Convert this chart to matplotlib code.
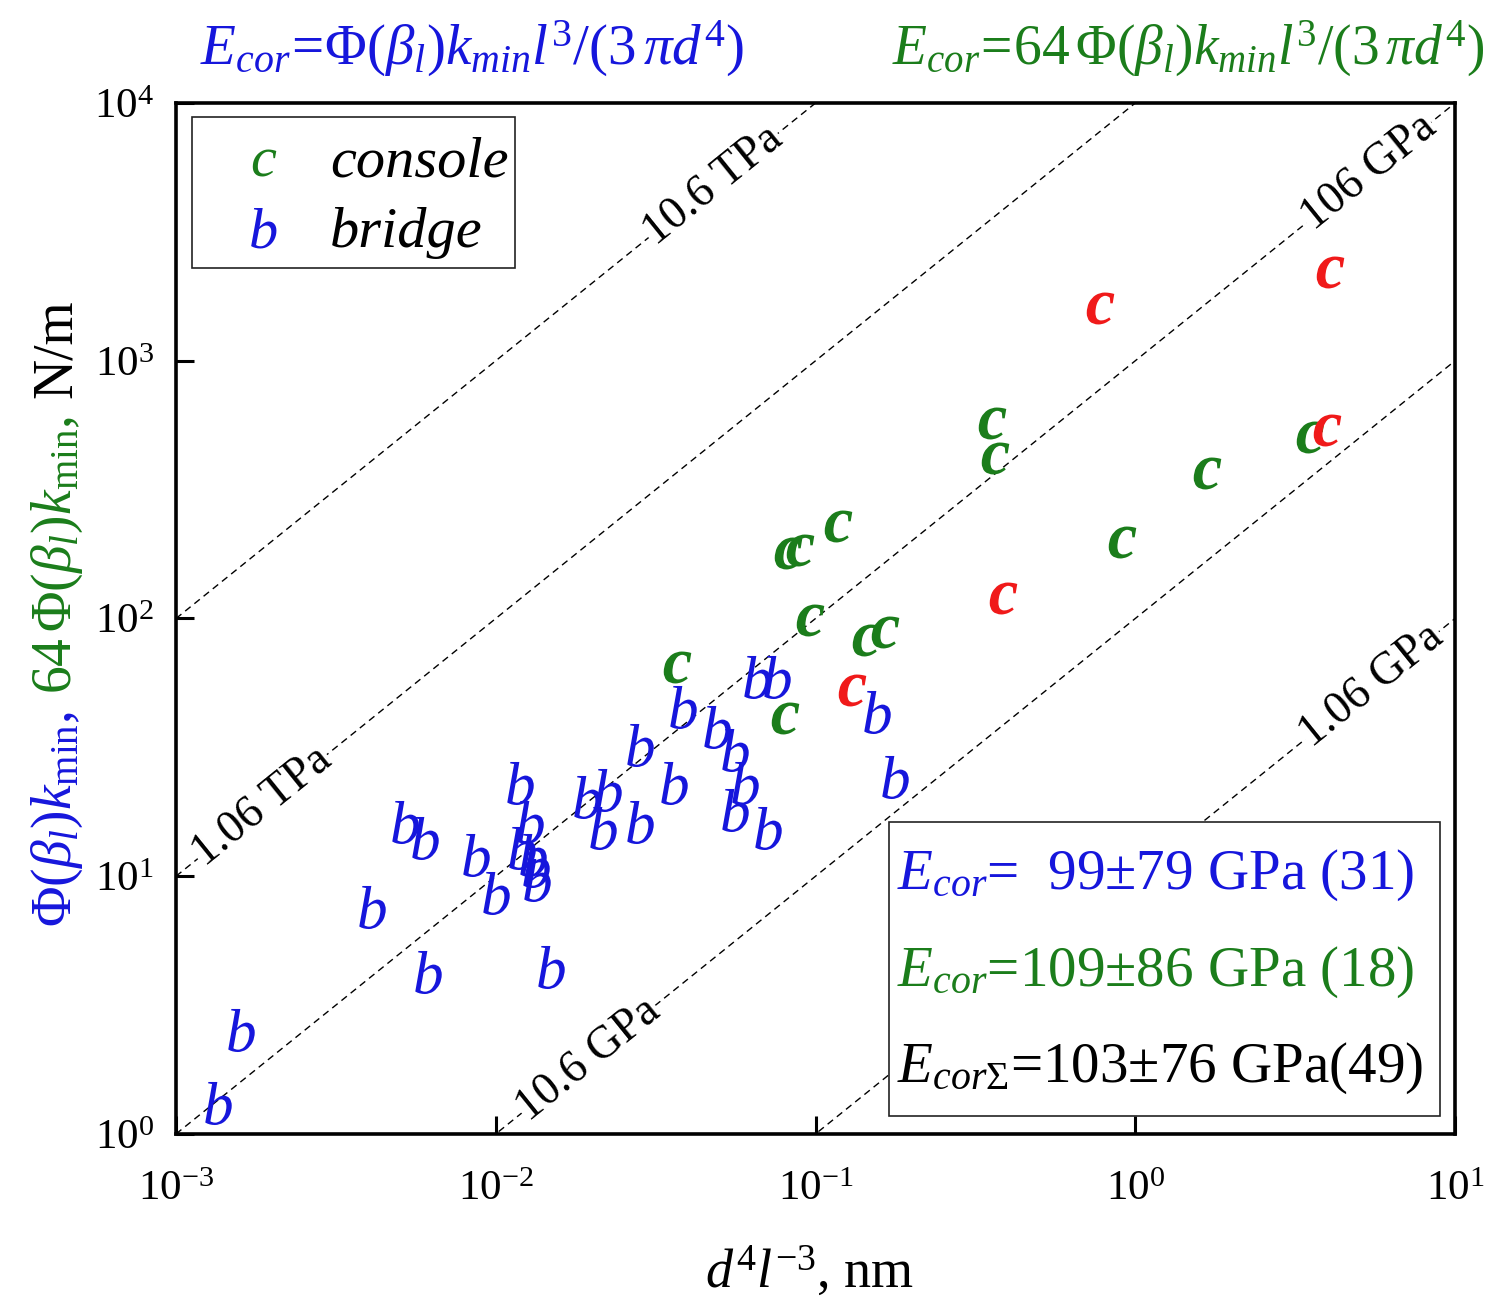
import numpy as np
import matplotlib
matplotlib.use("Agg")
import matplotlib.pyplot as plt
from matplotlib.textpath import TextPath
from matplotlib.font_manager import FontProperties
from matplotlib.transforms import Affine2D
from matplotlib.patches import Rectangle

plt.rcParams['font.family'] = ['Liberation Serif', 'DejaVu Serif']
plt.rcParams['mathtext.fontset'] = 'custom'
plt.rcParams['mathtext.rm'] = 'Liberation Serif'
plt.rcParams['mathtext.it'] = 'Liberation Serif:italic'
plt.rcParams['mathtext.bf'] = 'Liberation Serif:bold'

BLUE = '#1616dc'
GREEN = '#1b7d1b'
RED = '#f01a1a'

# bridge-type samples (b): d^4 l^-3 [nm], Phi(beta_l) k_min [N/m]
bridge_x = [0.00135, 0.00160, 0.00410, 0.00520, 0.00601, 0.00614, 0.00868,
            0.01002, 0.0119, 0.0128, 0.01208, 0.01308, 0.01336, 0.01346,
            0.01489, 0.0193, 0.02244, 0.02164, 0.02826, 0.02826, 0.0361,
            0.0385, 0.0492, 0.0560, 0.0602, 0.0560, 0.0710, 0.0656, 0.0758,
            0.1557, 0.1772]
bridge_y = [1.32, 2.53, 7.60, 16.2, 14.1, 4.25, 12.1,
            8.61, 23.0, 16.2, 12.9, 12.1, 10.96, 9.67,
            4.45, 20.3, 21.6, 15.4, 32.3, 16.2, 23.0,
            45.4, 37.9, 30.9, 23.0, 18.1, 15.4, 59.3, 59.3,
            43.4, 24.3]

# console-type samples (c): d^4 l^-3 [nm], 64 Phi(beta_l) k_min [N/m]
console_x = [0.0369, 0.0803, 0.0961, 0.1438, 0.1650, 0.0820, 0.0894,
             0.1176, 0.3565, 0.3642, 3.52, 1.676, 0.909]
console_y = [64.8, 41.1, 98.7, 82.5, 88.6, 179.6, 184.4,
             228.5, 573.0, 419.5, 506.0, 366.8, 198.1]

# console-type samples highlighted in red
console_red_x = [0.130, 0.776, 4.06, 3.98, 0.386]
console_red_y = [52.8, 1602.0, 2210.0, 538.6, 120.1]

# constant-modulus guide lines k = coef * d^4 l^-3
line_coef = [1e5, 1e4, 1e3, 1e2, 1e1]
line_labels = ['10.6 TPa', '1.06 TPa', '106 GPa', '10.6 GPa', '1.06 GPa']
line_label_x = [10**-1.32, 10**-2.73, 10**0.73, 10**-1.71, 10**0.74]

x_ticks = [1e-3, 1e-2, 1e-1, 1e0, 1e1]
y_ticks = [1e0, 1e1, 1e2, 1e3, 1e4]

stats_lines = [r'$E_{cor}$=  99±79 GPa (31)',
               r'$E_{cor}$=109±86 GPa (18)',
               r'$E_{cor\Sigma}$=103±76 GPa(49)']
stats_colors = [BLUE, GREEN, 'black']


def glyph_marker(ch, bold=False):
    """Centred italic letter outline usable as a plot marker."""
    fp = FontProperties(family='Liberation Serif', style='italic',
                        weight='bold' if bold else 'normal')
    tp = TextPath((0, 0), ch, size=100, prop=fp)
    ext = tp.get_extents()
    cx, cy = (ext.x0 + ext.x1) / 2, (ext.y0 + ext.y1) / 2
    return Affine2D().translate(-cx, -cy).transform_path(tp)


fig = plt.figure(figsize=(14.89, 13.01), dpi=100)
ax = fig.add_axes([0.1182, 0.1284, 0.8590, 0.7924])
ax.set_xscale('log')
ax.set_yscale('log')
ax.set_xlim(1e-3, 1e1)
ax.set_ylim(1e0, 1e4)
ax.set_xticks(x_ticks)
ax.set_yticks(y_ticks)
ax.minorticks_off()
ax.tick_params(which='major', direction='in', length=13, width=2.2,
               labelsize=31, colors='black')
ax.tick_params(axis='x', pad=26)
ax.tick_params(axis='y', pad=16)
for sp in ax.spines.values():
    sp.set_linewidth(2.6)

# guide lines
xs = np.array(ax.get_xlim())
for coef in line_coef:
    ax.plot(xs, coef * xs, ls=(0, (5, 3.5)), color='black', lw=1.0, zorder=1)

p0 = ax.transData.transform((1e-3, 1e0))
p1 = ax.transData.transform((1e1, 1e4))
ang = np.degrees(np.arctan2(p1[1] - p0[1], p1[0] - p0[0]))
for coef, lab, lx in zip(line_coef, line_labels, line_label_x):
    ax.text(lx, coef * lx, lab, rotation=ang, rotation_mode='anchor',
            ha='center', va='center', fontsize=33, zorder=2,
            bbox=dict(fc='white', ec='none', pad=0.4))

# data points drawn as letters
ax.plot(bridge_x, bridge_y, ls='none', marker=glyph_marker('b'),
        markersize=31, mfc=BLUE, mec=BLUE, mew=0, zorder=4)
ax.plot(console_x, console_y, ls='none', marker=glyph_marker('c', bold=True),
        markersize=23, mfc=GREEN, mec=GREEN, mew=0, zorder=4)
ax.plot(console_red_x, console_red_y, ls='none', marker=glyph_marker('c', bold=True),
        markersize=23, mfc=RED, mec=RED, mew=0, zorder=5)

# legend box
ax.add_patch(Rectangle((0.0125, 0.840), 0.2525, 0.146, transform=ax.transAxes,
                       fc='white', ec='#222222', lw=1.2, zorder=6))
ax.text(0.068, 0.929, 'c', transform=ax.transAxes, color=GREEN, style='italic',
        fontsize=42, ha='center', va='baseline', zorder=7)
ax.text(0.1204, 0.929, 'console', transform=ax.transAxes, color='black',
        style='italic', fontsize=42, ha='left', va='baseline', zorder=7)
ax.text(0.068, 0.860, 'b', transform=ax.transAxes, color=BLUE, style='italic',
        fontsize=42, ha='center', va='baseline', zorder=7)
ax.text(0.1204, 0.860, 'bridge', transform=ax.transAxes, color='black',
        style='italic', fontsize=42, ha='left', va='baseline', zorder=7)

# statistics box
ax.add_patch(Rectangle((0.5575, 0.01746), 0.4308, 0.2851, transform=ax.transAxes,
                       fc='white', ec='#222222', lw=1.2, zorder=6))
for txt, col, yb in zip(stats_lines, stats_colors, [0.2376, 0.1435, 0.0504]):
    ax.text(0.5637, yb, txt, transform=ax.transAxes, color=col, fontsize=41,
            ha='left', va='baseline', zorder=7)

# axis labels
ax.set_xlabel(r'$d^4l^{-3}$, nm', fontsize=39)
ax.xaxis.set_label_coords(0.4957, -0.108)
ax.xaxis.label.set_va('top')

t1 = fig.text(57 / 1489, 1 - 927 / 1301, r'$\Phi(\beta_l)k_{\mathrm{min}}$,  ',
              color=BLUE, rotation=90, fontsize=40, ha='center', va='bottom')
t2 = ax.annotate(r'$64\,\Phi(\beta_l)k_{\mathrm{min}}$,  ', xy=(0.5, 1.0),
                 xycoords=t1, color=GREEN, rotation=90, fontsize=40,
                 ha='center', va='bottom', annotation_clip=False)
t3 = ax.annotate('N/m', xy=(0.5, 1.0), xycoords=t2, color='black', rotation=90,
                 fontsize=40, ha='center', va='bottom', annotation_clip=False)

# formula headers
fig.text(472 / 1489, 1 - 65 / 1301,
         r'$E_{cor}\!=\!\Phi(\beta_l)k_{min}l^3/(3\,\pi d^4)$',
         color=BLUE, fontsize=41, ha='center', va='baseline')
fig.text(1484 / 1489, 1 - 65 / 1301,
         r'$E_{cor}\!=\!64\,\Phi(\beta_l)k_{min}l^3/(3\,\pi d^4)$',
         color=GREEN, fontsize=40, ha='right', va='baseline')

fig.savefig('out.png', dpi=100)
